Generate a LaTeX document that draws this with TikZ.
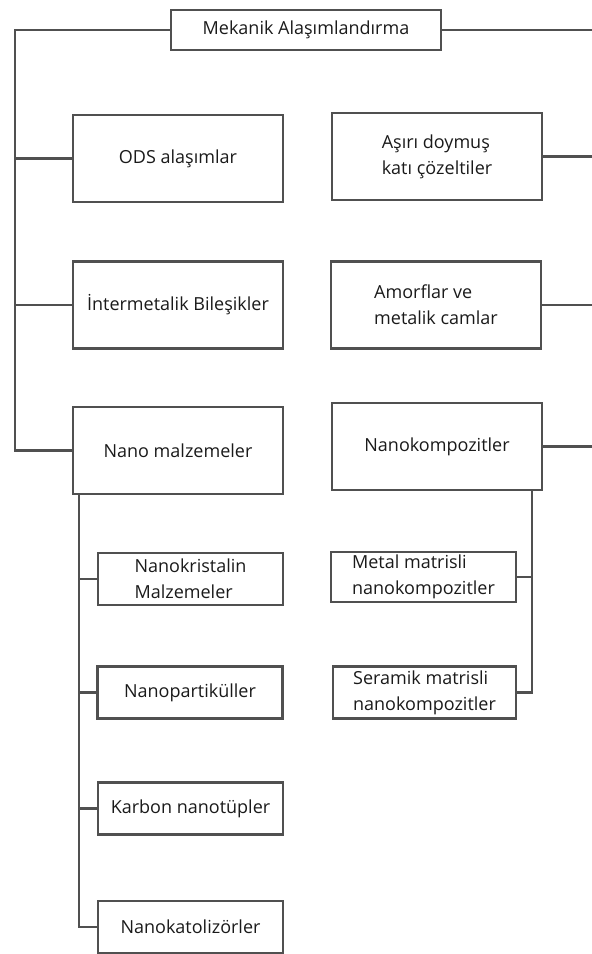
\documentclass[tikz,border=0pt]{standalone}
\usepackage{fontspec}
\setmainfont{Open Sans}
\usepackage{tikz}
\usetikzlibrary{shapes}
\definecolor{linegray}{HTML}{505050}
\definecolor{textgray}{HTML}{1A1A1A}
\tikzstyle{anybox} = [rectangle, draw=linegray, line width=2.8pt, text=textgray, text centered, inner sep=2pt, font=\fontsize{18}{26}\selectfont]
\tikzstyle{headbox} = [anybox, minimum width=270pt, minimum height=40pt]
\tikzstyle{groupbox} = [anybox, minimum width=210pt, minimum height=87pt]
\tikzstyle{leafbox} = [anybox, minimum width=185pt, minimum height=52pt, align=left]
\tikzstyle{link} = [draw=linegray, line width=2.8pt]

\begin{document}
\begin{tikzpicture}[x=1pt, y=-1pt]
	\useasboundingbox (0,0) rectangle (592,954);

	% rails
	\coordinate (railL) at (15,0);
	\coordinate (railR) at (592,0);
	\coordinate (railS) at (79,0);
	\coordinate (railK) at (532,0);

	% title node
	\node [headbox] (N0) at (306,30) {Mekanik Alaşımlandırma};

	% place nodes
	\node [groupbox] (N1) at (178,158.5) {ODS alaşımlar};
	\node [groupbox, align=left] (N2) at (437,156.5) {Aşırı doymuş\\katı çözeltiler};
	\node [groupbox] (N3) at (178,305) {İntermetalik Bileşikler};
	\node [groupbox, align=left] (N4) at (436,305) {Amorflar ve\\metalik camlar};
	\node [groupbox] (N5) at (178,450.5) {Nano malzemeler};
	\node [groupbox] (N6) at (437,446.5) {Nanokompozitler};

	\node [leafbox] (N7)  at (190.5,579) {Nanokristalin\\Malzemeler};
	\node [leafbox] (N8)  at (190,692.5) {Nanopartiküller};
	\node [leafbox] (N9)  at (190.5,808.5) {Karbon nanotüpler};
	\node [leafbox] (N10) at (190.5,927) {Nanokatolizörler};
	\node [leafbox, minimum height=50pt] (N11) at (423.5,577) {Metal matrisli\\nanokompozitler};
	\node [leafbox, minimum width=183pt] (N12) at (424.5,692.5) {Seramik matrisli\\nanokompozitler};

	% draw edges
	\path [link] (N0.west) -| (N5.west -| railL) -- (N5.west);
	\path [link] (N1.west) -- (N1.west -| railL);
	\path [link] (N3.west) -- (N3.west -| railL);
	\path [link] (N0.east) -- (N0.east -| railR);
	\path [link] (N2.east) -- (N2.east -| railR);
	\path [link] (N4.east) -- (N4.east -| railR);
	\path [link] (N6.east) -- (N6.east -| railR);

	\path [link] (N5.south -| railS) |- (N10.west);
	\path [link] (N7.west) -- (N7.west -| railS);
	\path [link] (N8.west) -- (N8.west -| railS);
	\path [link] (N9.west) -- (N9.west -| railS);
	\path [link] (N6.south -| railK) |- (N12.east);
	\path [link] (N11.east) -- (N11.east -| railK);
\end{tikzpicture}
\end{document}
